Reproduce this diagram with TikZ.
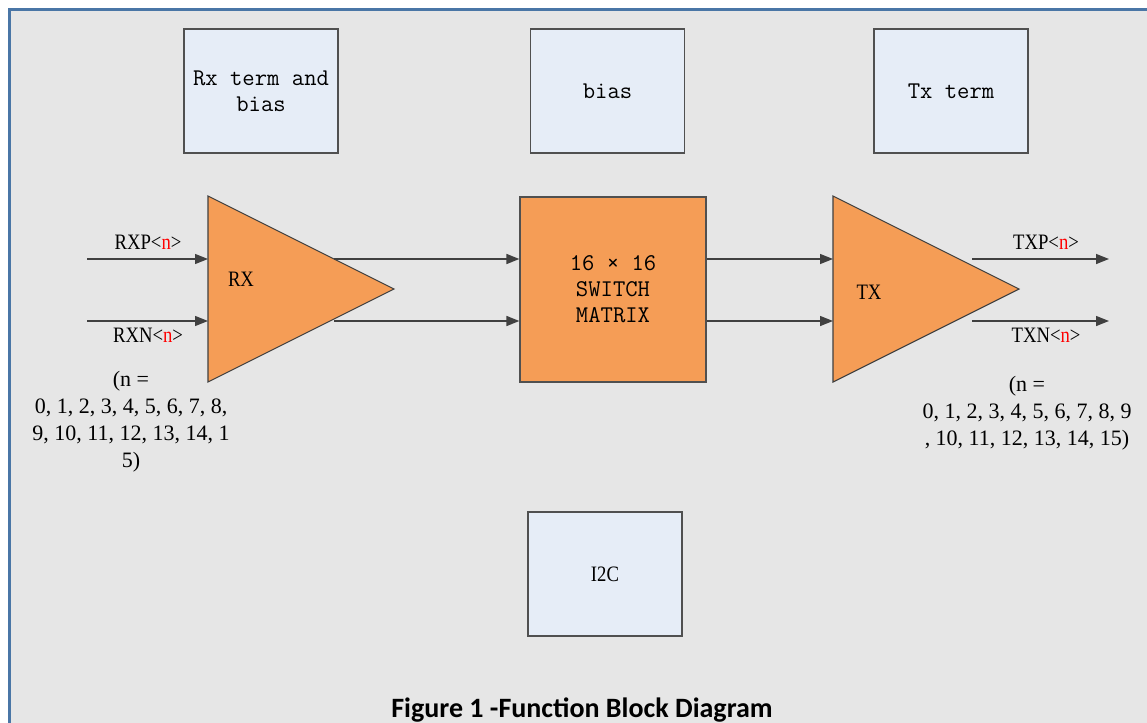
\documentclass[tikz,border=0pt]{standalone}
\usepackage{fontspec}
\setmainfont{Liberation Serif}
\newfontfamily\narrowf[FakeStretch=0.85]{Liberation Serif}
\newfontfamily\capf{Carlito}
\newcommand{\monof}{\ttfamily\addfontfeature{FakeStretch=0.87}}
\usetikzlibrary{arrows.meta}
\definecolor{bggray}{HTML}{E6E6E6}
\definecolor{framebl}{HTML}{4A76A6}
\definecolor{boxbl}{HTML}{E6EDF7}
\definecolor{orng}{HTML}{F59D56}
\definecolor{linegr}{HTML}{404040}
\definecolor{edgegr}{HTML}{505050}
\tikzset{
  lightbox/.style={draw=edgegr, line width=1.2pt, fill=boxbl, minimum width=154pt, minimum height=124pt, inner sep=0pt, align=center, font=\monof\fontsize{24}{26}\selectfont},
  swbox/.style={draw=edgegr, line width=1.2pt, fill=orng, minimum width=186pt, minimum height=185pt, inner sep=0pt, align=center, font=\monof\fontsize{24}{26}\selectfont},
  amp/.style={draw=linegr, line width=1.1pt, fill=orng},
  conn/.style={draw=linegr, line width=1.4pt, -{Triangle[length=13pt,width=10pt]}},
  lbl/.style={inner sep=0pt, font=\narrowf\fontsize{22}{26}\selectfont},
  numtxt/.style={inner sep=0pt, align=center, font=\fontsize{22}{27}\selectfont}
}
\newcommand{\rn}{\textcolor{red}{n}}
\begin{document}
\begin{tikzpicture}[x=1pt,y=-1pt]
\useasboundingbox (0,0) rectangle (1147,722);
\clip (0,0) rectangle (1147,722);
\fill[white] (0,0) rectangle (1147,722);
\fill[bggray] (9,9) rectangle (1150,725);
\draw[framebl, line width=2.6pt] (9.5,725) -- (9.5,9.5) -- (1150,9.5);

% top boxes
\node[lightbox] (rxterm) at (261,91) {Rx term and\\bias};
\node[lightbox] (bias) at (607.5,91) {bias};
\node[lightbox] (txterm) at (951,91) {Tx term};
\node[lightbox] (i2c) at (605,574) {\narrowf\fontsize{22}{26}\selectfont I2C};

% switch
\node[swbox] (sw) at (613,289.5) {16 × 16\\SWITCH\\MATRIX};

% amplifiers
\coordinate (rxa) at (208,196); \coordinate (rxb) at (208,382); \coordinate (rxc) at (394,289);
\draw[amp] (rxa) -- (rxb) -- (rxc) -- cycle;
\coordinate (txa) at (833,196); \coordinate (txb) at (833,382); \coordinate (txc) at (1019,289);
\draw[amp] (txa) -- (txb) -- (txc) -- cycle;
\node[lbl] (rxl) at (241,279) {RX};
\node[lbl] (txl) at (869,292) {TX};

% input connectors
\coordinate (rxpin) at (87,259); \coordinate (rxpend) at (208,259);
\coordinate (rxnin) at (87,321); \coordinate (rxnend) at (208,321);
\draw[conn] (rxpin) -- (rxpend);
\draw[conn] (rxnin) -- (rxnend);

% RX to switch
\coordinate (rxo1) at (334,259); \coordinate (rxo2) at (334,321);
\draw[conn] (rxo1) -- (rxo1 -| sw.west);
\draw[conn] (rxo2) -- (rxo2 -| sw.west);

% switch to TX
\coordinate (txi1) at (833,259); \coordinate (txi2) at (833,321);
\draw[conn] (sw.east |- txi1) -- (txi1);
\draw[conn] (sw.east |- txi2) -- (txi2);

% TX outputs
\coordinate (txo1) at (972,259); \coordinate (txo1e) at (1109,259);
\coordinate (txo2) at (972,321); \coordinate (txo2e) at (1109,321);
\draw[conn] (txo1) -- (txo1e);
\draw[conn] (txo2) -- (txo2e);

% signal labels
\node[lbl] (rxpl) at (148,242) {RXP<\rn>};
\node[lbl] (rxnl) at (148,335) {RXN<\rn>};
\node[lbl] (txpl) at (1046,242) {TXP<\rn>};
\node[lbl] (txnl) at (1046,335) {TXN<\rn>};

% index notes
\node[numtxt] (nleft) at (131,422) {(n =\\0, 1, 2, 3, 4, 5, 6, 7, 8,\\9, 10, 11, 12, 13, 14, 1\\5)};
\node[numtxt] (nright) at (1027,413) {(n =\\0, 1, 2, 3, 4, 5, 6, 7, 8, 9\\, 10, 11, 12, 13, 14, 15)};

% caption
\node[anchor=base, inner sep=0pt, font=\capf\bfseries\fontsize{28}{32}\selectfont] (cap) at (582,717) {Figure 1 -Function Block Diagram};
\end{tikzpicture}
\end{document}
